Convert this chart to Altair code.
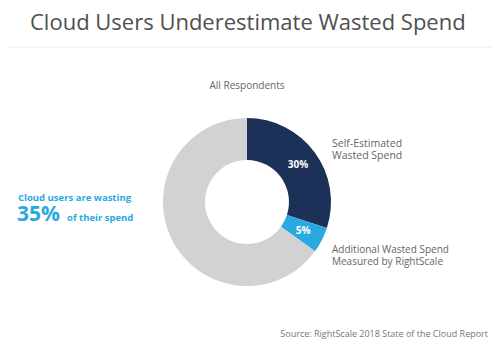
import altair as alt
import pandas as pd

segments = ["Self-Estimated Wasted Spend", "Additional Wasted Spend", "Other Spend"]
values = [30, 5, 65]
labels = ["30%", "5%", ""]
colors = ["#1b3157", "#29a9e0", "#d1d2d4"]
order = [0, 1, 2]

df = pd.DataFrame({"segment": segments, "value": values, "label": labels, "ord": order})

W, H = 484, 343
CX, CY = 239, 194

base = alt.Chart(df)

donut = base.mark_arc(outerRadius=84, innerRadius=42, stroke=None).encode(
    theta=alt.Theta("value:Q", stack=True),
    color=alt.Color("segment:N", scale=alt.Scale(domain=segments, range=colors), legend=None),
    order=alt.Order("ord:Q"),
    x=alt.value(CX), y=alt.value(CY),
)

pct = base.mark_text(radius=63, color="white", fontWeight="bold", fontSize=10, font="Open Sans").encode(
    theta=alt.Theta("value:Q", stack=True),
    order=alt.Order("ord:Q"),
    text="label:N",
    x=alt.value(CX), y=alt.value(CY),
)

def txt(s, x, y, size, color="#666666", weight="normal", align="left", font="Open Sans",
        baseline="alphabetic", lineHeight=None):
    kw = dict(align=align, baseline=baseline, fontSize=size, color=color, fontWeight=weight, font=font)
    if lineHeight is not None:
        kw["lineBreak"] = "\n"
        kw["lineHeight"] = lineHeight
    return alt.Chart(pd.DataFrame({"t": [s]})).mark_text(**kw).encode(
        text="t:N", x=alt.value(x), y=alt.value(y))

title = txt("Cloud Users Underestimate Wasted Spend", 22, 22, 22, color="#505050")
rule = alt.Chart(pd.DataFrame({"a": [0]})).mark_rule(color="#eeeeee", strokeWidth=1).encode(
    x=alt.value(-8), x2=alt.value(W + 8), y=alt.value(39)
)
sub = txt("All Respondents", CX, 81, 10, color="#666666", align="center")
l1 = txt("Self-Estimated\nWasted Spend", 324, 139, 10.5, lineHeight=11.5)
l2 = txt("Additional Wasted Spend\nMeasured by RightScale", 324, 245, 10, lineHeight=11.5)
left1 = txt("Cloud users are wasting", 10, 193, 9.5, color="#29a9e0", weight="bold")
left2 = txt("35%", 9, 213, 21, color="#29a9e0", weight="bold")
left3 = txt("of their spend", 59, 213, 9.5, color="#29a9e0", weight="bold")
src = txt("Source: RightScale 2018 State of the Cloud Report", 480, 329, 9, color="#777777", align="right")

chart = alt.layer(donut, pct, title, rule, sub, l1, l2, left1, left2, left3, src).properties(
    width=W, height=H, padding=0, autosize=alt.AutoSizeParams(type="none")
).configure_view(stroke=None)

chart.save("out.html", embed_options={"renderer": "svg", "actions": False})
